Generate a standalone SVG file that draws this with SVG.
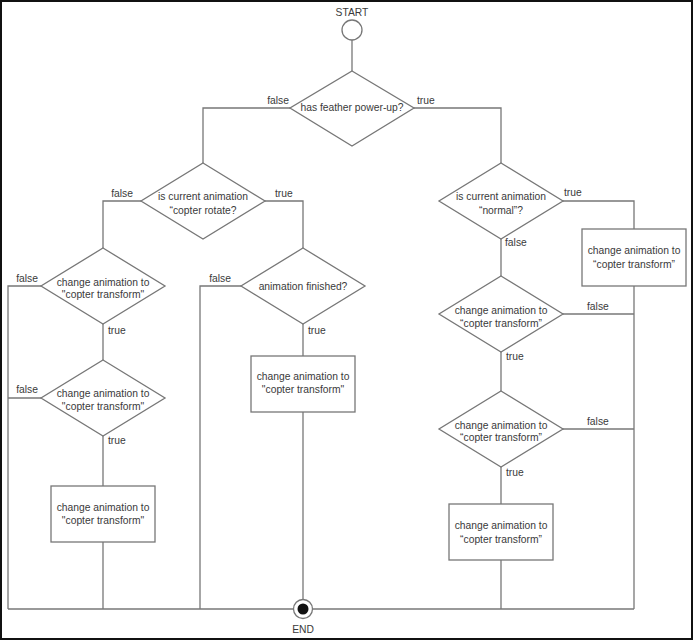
<svg xmlns="http://www.w3.org/2000/svg" width="694" height="641" viewBox="0 0 694 641">
<style>
.ln{fill:none;stroke:#777;stroke-width:1.3}
.sh{fill:#fff;stroke:#777;stroke-width:1.3}
text{font-family:"Liberation Sans",Arial,sans-serif;font-size:10.3px;fill:#3a3a3a}
.c{text-anchor:middle}
.e{text-anchor:end}
</style>
<rect x="1" y="1" width="691" height="638" fill="#fff" stroke="#111" stroke-width="2"/>
<g id="connectors">
<path class="ln" d="M352,40 V71"/>
<path class="ln" d="M290,108 H203 V163"/>
<path class="ln" d="M414,108 H501 V163"/>
<path class="ln" d="M141,201 H103 V248"/>
<path class="ln" d="M265,201 H303 V248"/>
<path class="ln" d="M41,286 H8 V609"/>
<path class="ln" d="M103,324 V360"/>
<path class="ln" d="M41,398 H8"/>
<path class="ln" d="M103,436 V486"/>
<path class="ln" d="M103,542 V609"/>
<path class="ln" d="M241,286 H200 V609"/>
<path class="ln" d="M303,324 V356"/>
<path class="ln" d="M303,412 V600"/>
<path class="ln" d="M563,201 H634 V229"/>
<path class="ln" d="M501,239 V276"/>
<path class="ln" d="M634,286 V609"/>
<path class="ln" d="M563,314 H634"/>
<path class="ln" d="M501,352 V391"/>
<path class="ln" d="M563,429 H634"/>
<path class="ln" d="M501,467 V504"/>
<path class="ln" d="M501,560 V609"/>
<path class="ln" d="M8,609 H634"/>
<text class="e" x="289" y="104">false</text>
<text x="417" y="104">true</text>
<text class="e" x="133" y="197">false</text>
<text x="275" y="197">true</text>
<text class="e" x="38" y="282">false</text>
<text x="108" y="334">true</text>
<text class="e" x="231" y="282">false</text>
<text x="308" y="334">true</text>
<text class="e" x="38" y="393">false</text>
<text x="108" y="444">true</text>
<text x="564" y="196">true</text>
<text x="505" y="246">false</text>
<text x="587" y="310">false</text>
<text x="506" y="360">true</text>
<text x="587" y="425">false</text>
<text x="506" y="476">true</text>
</g>
<g id="start">
<text class="c" x="352" y="16">START</text>
<circle class="sh" cx="352" cy="30" r="10"/>
</g>
<g id="d1">
<polygon class="sh" points="352,71 414,108 352,146 290,108"/>
<text class="c" x="352" y="111">has feather power-up?</text>
</g>
<g id="d2">
<polygon class="sh" points="203,163 265,201 203,239 141,201"/>
<text class="c" x="203" y="200">is current animation</text>
<text class="c" x="203" y="214">“copter rotate?</text>
</g>
<g id="d3">
<polygon class="sh" points="501,163 563,201 501,239 439,201"/>
<text class="c" x="501" y="200">is current animation</text>
<text class="c" x="501" y="214">“normal”?</text>
</g>
<g id="d4">
<polygon class="sh" points="103,248 165,286 103,324 41,286"/>
<text class="c" x="103" y="285.5">change animation to</text>
<text class="c" x="103" y="298">"copter transform"</text>
</g>
<g id="d5">
<polygon class="sh" points="303,248 365,286 303,324 241,286"/>
<text class="c" x="303" y="289.5">animation finished?</text>
</g>
<g id="d8">
<polygon class="sh" points="103,360 165,398 103,436 41,398"/>
<text class="c" x="103" y="397">change animation to</text>
<text class="c" x="103" y="409.5">"copter transform"</text>
</g>
<g id="box-left">
<rect class="sh" x="51" y="486" width="104" height="56"/>
<text class="c" x="103" y="510.5">change animation to</text>
<text class="c" x="103" y="523.5">"copter transform"</text>
</g>
<g id="box-mid">
<rect class="sh" x="251" y="356" width="104" height="56"/>
<text class="c" x="303" y="380">change animation to</text>
<text class="c" x="303" y="393">"copter transform"</text>
</g>
<g id="box-right">
<rect class="sh" x="582" y="229" width="104" height="57"/>
<text class="c" x="634" y="254">change animation to</text>
<text class="c" x="634" y="267.5">“copter transform”</text>
</g>
<g id="d6">
<polygon class="sh" points="501,276 563,314 501,352 439,314"/>
<text class="c" x="501" y="314">change animation to</text>
<text class="c" x="501" y="327">“copter transform”</text>
</g>
<g id="d7">
<polygon class="sh" points="501,391 563,429 501,467 439,429"/>
<text class="c" x="501" y="428.5">change animation to</text>
<text class="c" x="501" y="441">“copter transform”</text>
</g>
<g id="box-right2">
<rect class="sh" x="449" y="504" width="104" height="56"/>
<text class="c" x="501" y="529">change animation to</text>
<text class="c" x="501" y="542.5">“copter transform”</text>
</g>
<g id="end">
<circle class="sh" cx="303" cy="609" r="9.5"/>
<circle cx="303" cy="609" r="5.5" fill="#111"/>
<text class="c" x="303" y="633">END</text>
</g>
</svg>
